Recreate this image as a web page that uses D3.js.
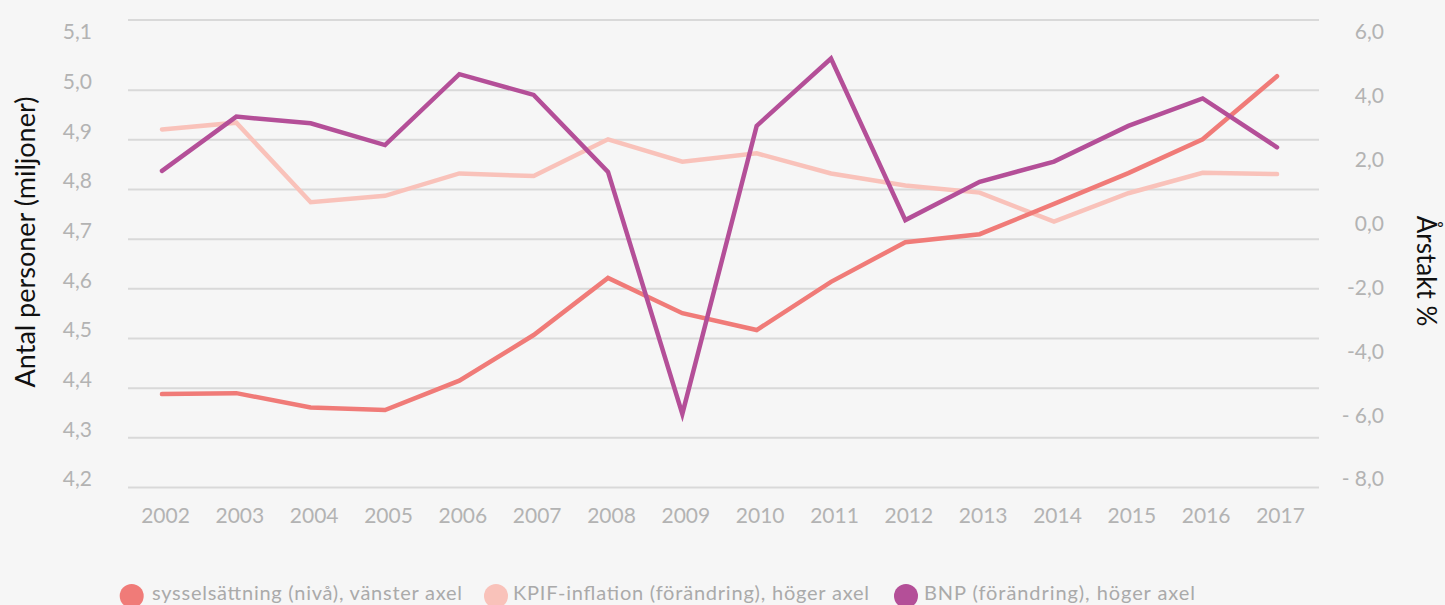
<!DOCTYPE html>
<html><head><meta charset="utf-8">
<script src="https://cdn.jsdelivr.net/npm/d3@7"></script>
<style>
html,body{margin:0;padding:0;background:#f6f6f6;}
svg{display:block;font-family:Lato,"Noto Sans",sans-serif;}
</style></head><body>
<svg id="chart" width="1445" height="605"></svg>
<script>
// ---- data ----
const years = [2002,2003,2004,2005,2006,2007,2008,2009,2010,2011,2012,2013,2014,2015,2016,2017];
const sysselsattning = [4.387,4.389,4.360,4.355,4.414,4.506,4.621,4.550,4.516,4.613,4.693,4.709,4.770,4.832,4.900,5.027];
const kpif = [3.20,3.41,0.92,1.12,1.82,1.74,2.89,2.19,2.45,1.82,1.44,1.22,0.31,1.20,1.84,1.80];
const bnp = [1.90,3.60,3.39,2.71,4.93,4.28,1.87,-5.71,3.31,5.42,0.36,1.56,2.19,3.31,4.17,2.64];
const leftTicks = [4.2,4.3,4.4,4.5,4.6,4.7,4.8,4.9,5.0,5.1];
const leftTickLabels = ["4,2","4,3","4,4","4,5","4,6","4,7","4,8","4,9","5,0","5,1"];
const gridTicks = [4.2,4.3,4.4,4.5,4.6,4.7,4.8,4.9,5.0];
const rightTicks = [-8,-6,-4,-2,0,2,4,6];
const rightTickLabels = ["- 8,0","- 6,0","-4,0","-2,0","0,0","2,0","4,0","6,0"];
const seriesNames = ["sysselsättning (nivå), vänster axel","KPIF-inflation (förändring), höger axel","BNP (förändring), höger axel"];
const seriesColors = ["#f07b78","#f9c2ba","#b44f98"];
const leftTitle = "Antal personer (miljoner)";
const rightTitle = "Årstakt %";

// ---- layout ----
const svg = d3.select("#chart");
const gridX0 = 128, gridX1 = 1319, topY = 20;
const x = d3.scalePoint().domain(years).range([162, 1277]);
const yL = d3.scaleLinear().domain([4.2, 5.1]).range([487, 40]);
const yR = d3.scaleLinear().domain([-8, 6]).range([487, 40]);
const tickColor = "#b3b3b3";

// gridlines
const grid = svg.append("g").attr("transform", `translate(${gridX0},0)`)
  .call(d3.axisRight(yL).tickValues(gridTicks).tickSize(gridX1 - gridX0).tickFormat(""));
grid.select(".domain").remove();
grid.selectAll("line").attr("stroke", "#d9d9d9").attr("stroke-width", 2);
svg.append("line").attr("x1", gridX0).attr("x2", gridX1).attr("y1", topY).attr("y2", topY)
  .attr("stroke", "#d9d9d9").attr("stroke-width", 2);

// left axis
const la = svg.append("g").attr("transform", "translate(92,0)")
  .call(d3.axisLeft(yL).tickValues(leftTicks).tickSize(0).tickPadding(0)
    .tickFormat((d, i) => leftTickLabels[i]));
la.select(".domain").remove();
la.selectAll("text").attr("fill", tickColor).attr("font-size", 21).attr("font-family", "Lato")
  .attr("dy", "-0.05em");

// right axis
const ra = svg.append("g").attr("transform", "translate(1384,0)")
  .call(d3.axisLeft(yR).tickValues(rightTicks).tickSize(0).tickPadding(0)
    .tickFormat((d, i) => rightTickLabels[i]));
ra.select(".domain").remove();
ra.selectAll("text").attr("fill", tickColor).attr("font-size", 21).attr("font-family", "Lato")
  .attr("dy", "-0.05em").style("white-space", "pre");

// x axis
const xa = svg.append("g").attr("transform", "translate(3,0)")
  .call(d3.axisBottom(x).tickSize(0).tickPadding(0).tickFormat(d => String(d)));
xa.select(".domain").remove();
xa.selectAll("text").attr("fill", tickColor).attr("font-size", 21).attr("font-family", "Lato")
  .attr("y", 523).attr("dy", 0);

// lines
const defs = [
  {vals: sysselsattning, y: yL, color: seriesColors[0]},
  {vals: kpif, y: yR, color: seriesColors[1]},
  {vals: bnp, y: yR, color: seriesColors[2]}
];
const order = [1, 0, 2];
order.forEach(k => {
  const s = defs[k];
  const line = d3.line().x((d, i) => x(years[i])).y(d => s.y(d));
  svg.append("path").datum(s.vals).attr("d", line).attr("fill", "none")
    .attr("stroke", s.color).attr("stroke-width", 4.5)
    .attr("stroke-linecap", "round").attr("stroke-linejoin", "miter");
});

// axis titles
svg.append("text").text(leftTitle).attr("transform", "translate(35,242) rotate(-90)")
  .attr("text-anchor", "middle").attr("font-size", 27).attr("fill", "#111");
svg.append("text").text(rightTitle).attr("transform", "translate(1417,271) rotate(90)")
  .attr("text-anchor", "middle").attr("font-size", 26).attr("fill", "#111");

// legend
const legendCx = [131.7, 496, 906];
const legendTx = [152, 513, 924];
const legendW = [310, 356, 271];
const lg = svg.append("g");
seriesNames.forEach((name, i) => {
  lg.append("circle").attr("cx", legendCx[i]).attr("cy", 596).attr("r", 12).attr("fill", seriesColors[i]);
  lg.append("text").text(name).attr("x", legendTx[i]).attr("y", 600)
    .attr("font-size", 20).attr("fill", "#aaaaaa")
    .attr("textLength", legendW[i]).attr("lengthAdjust", "spacing");
});
</script>
</body></html>
